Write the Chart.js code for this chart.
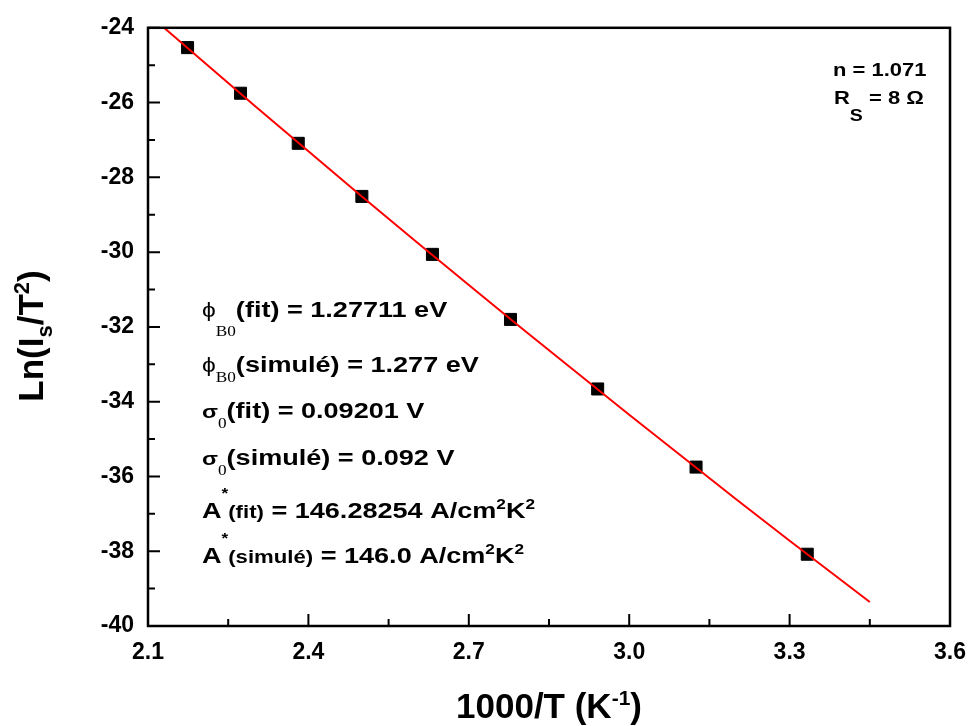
<!DOCTYPE html>
<html>
<head>
<meta charset="utf-8">
<script src="https://cdn.jsdelivr.net/npm/chart.js@4/dist/chart.umd.min.js"></script>
<style>
html,body{margin:0;padding:0;background:#fff;}
#wrap{width:979px;height:726px;position:relative;}
</style>
</head>
<body>
<div id="wrap"><canvas id="c" width="979" height="726"></canvas></div>
<script>
// ---- data ----
const invT   = [2.174, 2.273, 2.381, 2.500, 2.632, 2.778, 2.941, 3.125, 3.333];
const lnIsT2 = [-24.53, -25.75, -27.09, -28.51, -30.06, -31.80, -33.66, -35.75, -38.08];
const fitX = [2.13, 2.20, 2.30, 2.40, 2.50, 2.60, 2.70, 2.80, 2.90, 3.00, 3.10, 3.20, 3.30, 3.45];
const fitY = [-24.00, -24.86, -26.09, -27.30, -28.51, -29.70, -30.88, -32.05, -33.20, -34.35, -35.48, -36.61, -37.72, -39.36];
const xTicks = [2.1, 2.4, 2.7, 3.0, 3.3, 3.6];
const xMinorTicks = [2.25, 2.55, 2.85, 3.15, 3.45];
const yTicks = [-40, -38, -36, -34, -32, -30, -28, -26, -24];
const yMinorTicks = [-39, -37, -35, -33, -31, -29, -27, -25];

const SANS = '"Liberation Sans", Arial, "DejaVu Sans", sans-serif';
const SERIF = '"Liberation Serif", "Times New Roman", serif';

function rich(ctx, x, y, segs, sx, align, rot) {
  ctx.save();
  let w = 0;
  for (const s of segs) { ctx.font = s[1]; w += ctx.measureText(s[0]).width; }
  ctx.translate(x, y);
  if (rot) ctx.rotate(rot);
  ctx.scale(sx || 1, 1);
  ctx.textAlign = 'left';
  ctx.textBaseline = 'alphabetic';
  ctx.fillStyle = '#000';
  let cx = align === 'center' ? -w / 2 : 0;
  for (const s of segs) {
    ctx.font = s[1];
    ctx.fillText(s[0], cx, s[2] || 0);
    cx += ctx.measureText(s[0]).width;
  }
  ctx.restore();
}

const framePlugin = {
  id: 'frame',
  afterDraw(chart) {
    const ctx = chart.ctx;
    const a = chart.chartArea;
    const xs = chart.scales.x, ys = chart.scales.y;
    ctx.save();
    ctx.strokeStyle = '#000';
    ctx.lineWidth = 2.5;
    ctx.lineCap = 'square';
    ctx.strokeRect(a.left, a.top, a.right - a.left, a.bottom - a.top);
    ctx.lineWidth = 2;
    ctx.lineCap = 'butt';
    ctx.beginPath();
    for (const v of xTicks) { const p = xs.getPixelForValue(v); ctx.moveTo(p, a.bottom); ctx.lineTo(p, a.bottom - 12); }
    for (const v of xMinorTicks) { const p = xs.getPixelForValue(v); ctx.moveTo(p, a.bottom); ctx.lineTo(p, a.bottom - 7); }
    for (const v of yTicks) { const p = ys.getPixelForValue(v); ctx.moveTo(a.left, p); ctx.lineTo(a.left + 12, p); }
    for (const v of yMinorTicks) { const p = ys.getPixelForValue(v); ctx.moveTo(a.left, p); ctx.lineTo(a.left + 7, p); }
    ctx.stroke();
    ctx.restore();

    const B = (n) => 'bold ' + n + 'px ' + SANS;
    // axis titles
    rich(ctx, 549, 718, [['1000/T (K', B(35), 0], ['-1', B(21), -13], [')', B(35), 0]], 1, 'center');
    rich(ctx, 43, 336, [['Ln(I', B(35), 0], ['s', B(22), 9], ['/T', B(35), 0], ['2', B(22), -14], [')', B(35), 0]], 1, 'center', -Math.PI / 2);

    // annotations top right
    rich(ctx, 833, 76, [['n = 1.071', B(18), 0]], 1.22);
    rich(ctx, 834, 104, [['R', B(18), 0], ['S', B(16), 17], [' = 8 \u03A9', B(18), 0]], 1.22);

    // annotations left
    const sx = 1.23, x0 = 202;
    const PHI = '\u03D5';
    rich(ctx, x0, 317, [[PHI, '20px ' + SANS, 0], ['B0', '14px ' + SERIF, 19], ['(fit) = 1.27711 eV', B(22), 0]], sx);
    rich(ctx, x0, 372, [[PHI, '20px ' + SANS, 0], ['B0', '14px ' + SERIF, 10], ['(simulé) = 1.277 eV', B(22), 0]], sx);
    rich(ctx, x0, 418, [['\u03C3', B(19), 0], ['0', '14px ' + SERIF, 10], ['(fit) = 0.09201 V', B(22), 0]], sx);
    rich(ctx, x0, 465, [['\u03C3', B(19), 0], ['0', '14px ' + SERIF, 10], ['(simulé) = 0.092 V', B(22), 0]], sx);
    rich(ctx, x0, 518, [['A', B(22), 0], ['*', B(14), -20], ['(fit)', B(18), 0], [' = 146.28254 A/cm', B(22), 0], ['2', B(14), -9], ['K', B(22), 0], ['2', B(14), -9]], sx);
    rich(ctx, x0, 563, [['A', B(22), 0], ['*', B(14), -20], ['(simulé)', B(18), 0], [' = 146.0 A/cm', B(22), 0], ['2', B(14), -9], ['K', B(22), 0], ['2', B(14), -9]], sx);
  }
};

new Chart(document.getElementById('c'), {
  type: 'scatter',
  data: {
    datasets: [
      {
        label: 'fit',
        data: fitX.map((x, i) => ({ x: x, y: fitY[i] })),
        showLine: true,
        borderColor: '#ff0000',
        borderWidth: 2,
        pointRadius: 0,
        fill: false,
        order: 0
      },
      {
        label: 'data',
        data: invT.map((x, i) => ({ x: x, y: lnIsT2[i] })),
        pointStyle: 'rect',
        pointRadius: 8.5,
        backgroundColor: '#000',
        borderColor: '#000',
        borderWidth: 1,
        order: 1
      }
    ]
  },
  options: {
    responsive: false,
    animation: false,
    devicePixelRatio: 1,
    layout: { padding: { left: 0, right: 22, top: 26, bottom: 0 } },
    plugins: { legend: { display: false }, tooltip: { enabled: false } },
    scales: {
      x: {
        type: 'linear',
        min: 2.1, max: 3.6,
        grid: { display: false, drawTicks: false },
        border: { display: false },
        afterBuildTicks: (s) => { s.ticks = xTicks.map(v => ({ value: v })); },
        afterFit: (s) => { s.height = 100; },
        ticks: {
          padding: 13,
          color: '#000',
          font: { family: SANS, size: 23, weight: 'bold' },
          callback: (v) => Number(v).toFixed(1),
          maxRotation: 0
        }
      },
      y: {
        type: 'linear',
        min: -40, max: -24,
        grid: { display: false, drawTicks: false },
        border: { display: false },
        afterBuildTicks: (s) => { s.ticks = yTicks.map(v => ({ value: v })); },
        afterFit: (s) => { s.width = 148; },
        ticks: {
          padding: 14,
          color: '#000',
          font: { family: SANS, size: 23, weight: 'bold' },
          callback: (v) => String(v)
        }
      }
    }
  },
  plugins: [framePlugin]
});
</script>
</body>
</html>
